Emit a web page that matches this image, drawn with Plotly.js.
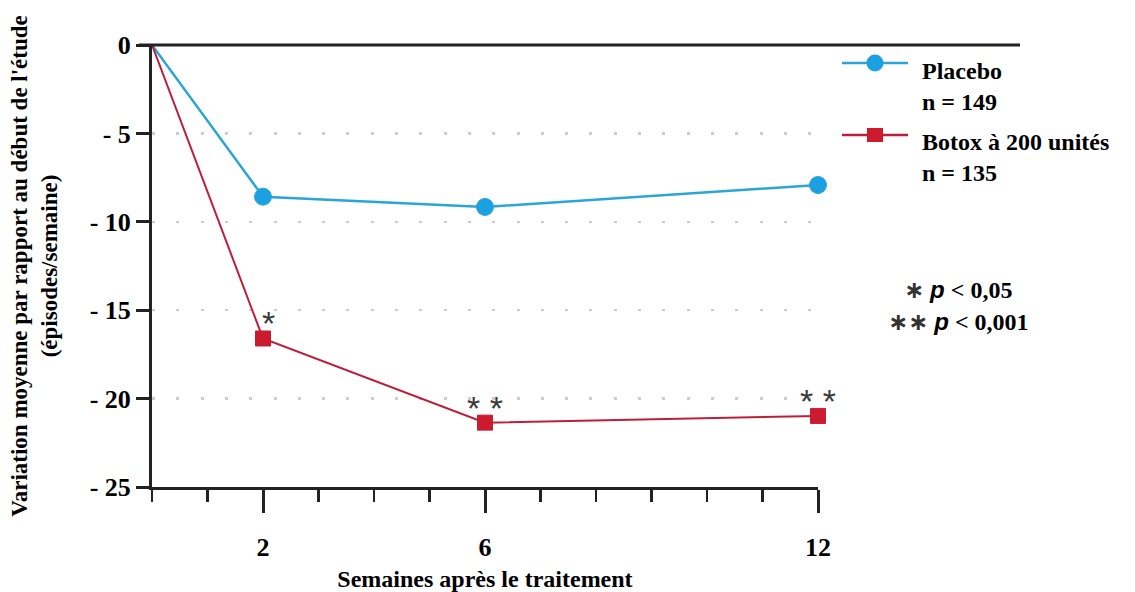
<!DOCTYPE html>
<html>
<head>
<meta charset="utf-8">
<script src="https://cdn.plot.ly/plotly-3.0.1.min.js"></script>
<style>html,body{margin:0;padding:0;background:#fff;}#chart{width:1135px;height:592px;}</style>
</head>
<body>
<div id="chart"></div>
<script>
const weeks = [0, 2, 6, 12];
const placebo = [0, -8.58, -9.16, -7.92];
const botox = [0, -16.6, -21.36, -20.98];
const significance = ['', '*', '* *', '* *'];
const yTickVals = [0, -5, -10, -15, -20, -25];
const yTickText = ['0', '- 5', '- 10', '- 15', '- 20', '- 25'];
const xTickVals = [2, 6, 12];
const placeboName = 'Placebo';
const placeboN = 'n = 149';
const botoxName = 'Botox à 200 unités';
const botoxN = 'n = 135';

const serif = '"Liberation Serif", "Times New Roman", Times, serif';
const cyanLine = '#2aa6d6', cyanMarker = '#1ba1e2';
const redLine = '#bd1f3a', redMarker = '#cc1a2e';
const axisColor = '#222';

const traces = [
  {x: weeks, y: placebo, name: placeboName, type: 'scatter', mode: 'lines+markers',
   line: {color: cyanLine, width: 2.5},
   marker: {symbol: 'circle', size: weeks.map(w => w === 0 ? 0 : 17), color: cyanMarker, opacity: 1},
   cliponaxis: false, showlegend: false},
  {x: weeks, y: botox, name: botoxName, type: 'scatter', mode: 'lines+markers',
   line: {color: redLine, width: 2},
   marker: {symbol: 'square', size: weeks.map(w => w === 0 ? 0 : 15), color: redMarker, opacity: 1},
   cliponaxis: false, showlegend: false}
];

const W = 1135, H = 592, L = 152, R = 317, T = 45, B = 105;
const pw = W - L - R, ph = H - T - B;
const px = v => (v - L) / pw;          // pixel x -> paper
const py = v => (H - B - v) / ph;      // pixel y -> paper

const annotations = [];
weeks.forEach((w, i) => {
  if (significance[i]) {
    annotations.push({x: w, y: botox[i], xref: 'x', yref: 'y', text: significance[i],
      showarrow: false, yshift: 15, xshift: i === 1 ? 5 : 0,
      font: {family: 'Liberation Sans, Arial, sans-serif', size: 34, color: '#3a3a3a'}});
  }
});
// legend texts (two lines per entry)
const legFont = {family: serif, size: 24, color: '#000', weight: 700};
[[placeboName + '<br>' + placeboN, 86], [botoxName + '<br>' + botoxN, 157.5]].forEach(([t, y]) => {
  annotations.push({x: px(921), y: py(y), xref: 'paper', yref: 'paper', xanchor: 'left', yanchor: 'middle',
    align: 'left', text: t, showarrow: false, font: legFont, borderpad: 0});
});
// p-value notes
const pLines = [
  ['∗', '0,05', 290],
  ['∗∗', '0,001', 322]
];
pLines.forEach(([s, v, y]) => {
  annotations.push({x: px(958), y: py(y), xref: 'paper', yref: 'paper', xanchor: 'center', yanchor: 'middle',
    showarrow: false, borderpad: 0,
    text: '<span style="font-family:DejaVu Sans;font-weight:bold;color:#333">' + s + '</span> <b><i style="font-family:Liberation Sans">p</i></b><b> &lt; ' + v + '</b>',
    font: {family: serif, size: 24, color: '#000'}});
});

const shapes = [
  {type: 'line', xref: 'paper', yref: 'paper', x0: px(139), x1: px(1020), y0: 1, y1: 1,
   line: {color: axisColor, width: 3}},
  {type: 'line', xref: 'paper', yref: 'paper', x0: px(842), x1: px(908), y0: py(63), y1: py(63),
   line: {color: cyanLine, width: 2.5}},
  {type: 'circle', xref: 'paper', yref: 'paper', xsizemode: 'pixel', ysizemode: 'pixel',
   xanchor: px(875), yanchor: py(63), x0: -8.5, x1: 8.5, y0: -8.5, y1: 8.5,
   fillcolor: cyanMarker, line: {width: 0}},
  {type: 'line', xref: 'paper', yref: 'paper', x0: px(842), x1: px(908), y0: py(135), y1: py(135),
   line: {color: redLine, width: 2.5}},
  {type: 'rect', xref: 'paper', yref: 'paper', xsizemode: 'pixel', ysizemode: 'pixel',
   xanchor: px(875), yanchor: py(135), x0: -8, x1: 8, y0: -7, y1: 7,
   fillcolor: redMarker, line: {width: 0}}
];

const layout = {
  width: W, height: H,
  margin: {l: L, r: R, t: T, b: B, pad: 0},
  paper_bgcolor: '#fff', plot_bgcolor: '#fff',
  showlegend: false,
  font: {family: serif, color: '#000'},
  xaxis: {
    range: [0, 12], fixedrange: true,
    showline: true, linewidth: 3, linecolor: axisColor,
    tickmode: 'array', tickvals: xTickVals,
    ticks: 'outside', ticklen: 23, tickwidth: 3, tickcolor: axisColor,
    minor: {tickmode: 'linear', tick0: 0, dtick: 1, ticks: 'outside', ticklen: 12, tickwidth: 2.5, tickcolor: axisColor, showgrid: false},
    tickfont: {family: serif, size: 26, color: '#000', weight: 700},
    ticklabelstandoff: 12,
    showgrid: false, zeroline: false, automargin: false,
    title: {text: 'Semaines après le traitement', font: {family: serif, size: 24, color: '#000', weight: 700}, standoff: 11}
  },
  yaxis: {
    range: [-25, 0], fixedrange: true,
    showline: true, linewidth: 3, linecolor: axisColor,
    tickmode: 'array', tickvals: yTickVals, ticktext: yTickText,
    ticks: 'outside', ticklen: 13, tickwidth: 3, tickcolor: axisColor,
    tickfont: {family: serif, size: 26, color: '#000', weight: 700},
    showgrid: true, gridcolor: '#cdcdcd', gridwidth: 2.5, griddash: '3px,21.3px',
    zeroline: false, automargin: false,
    title: {text: "Variation moyenne par rapport au début de l'étude<br>(épisodes/semaine)",
            font: {family: serif, size: 23, color: '#000', weight: 700}, standoff: 26}
  },
  annotations: annotations,
  shapes: shapes
};

Plotly.newPlot('chart', traces, layout, {displayModeBar: false, staticPlot: true});
</script>
</body>
</html>
